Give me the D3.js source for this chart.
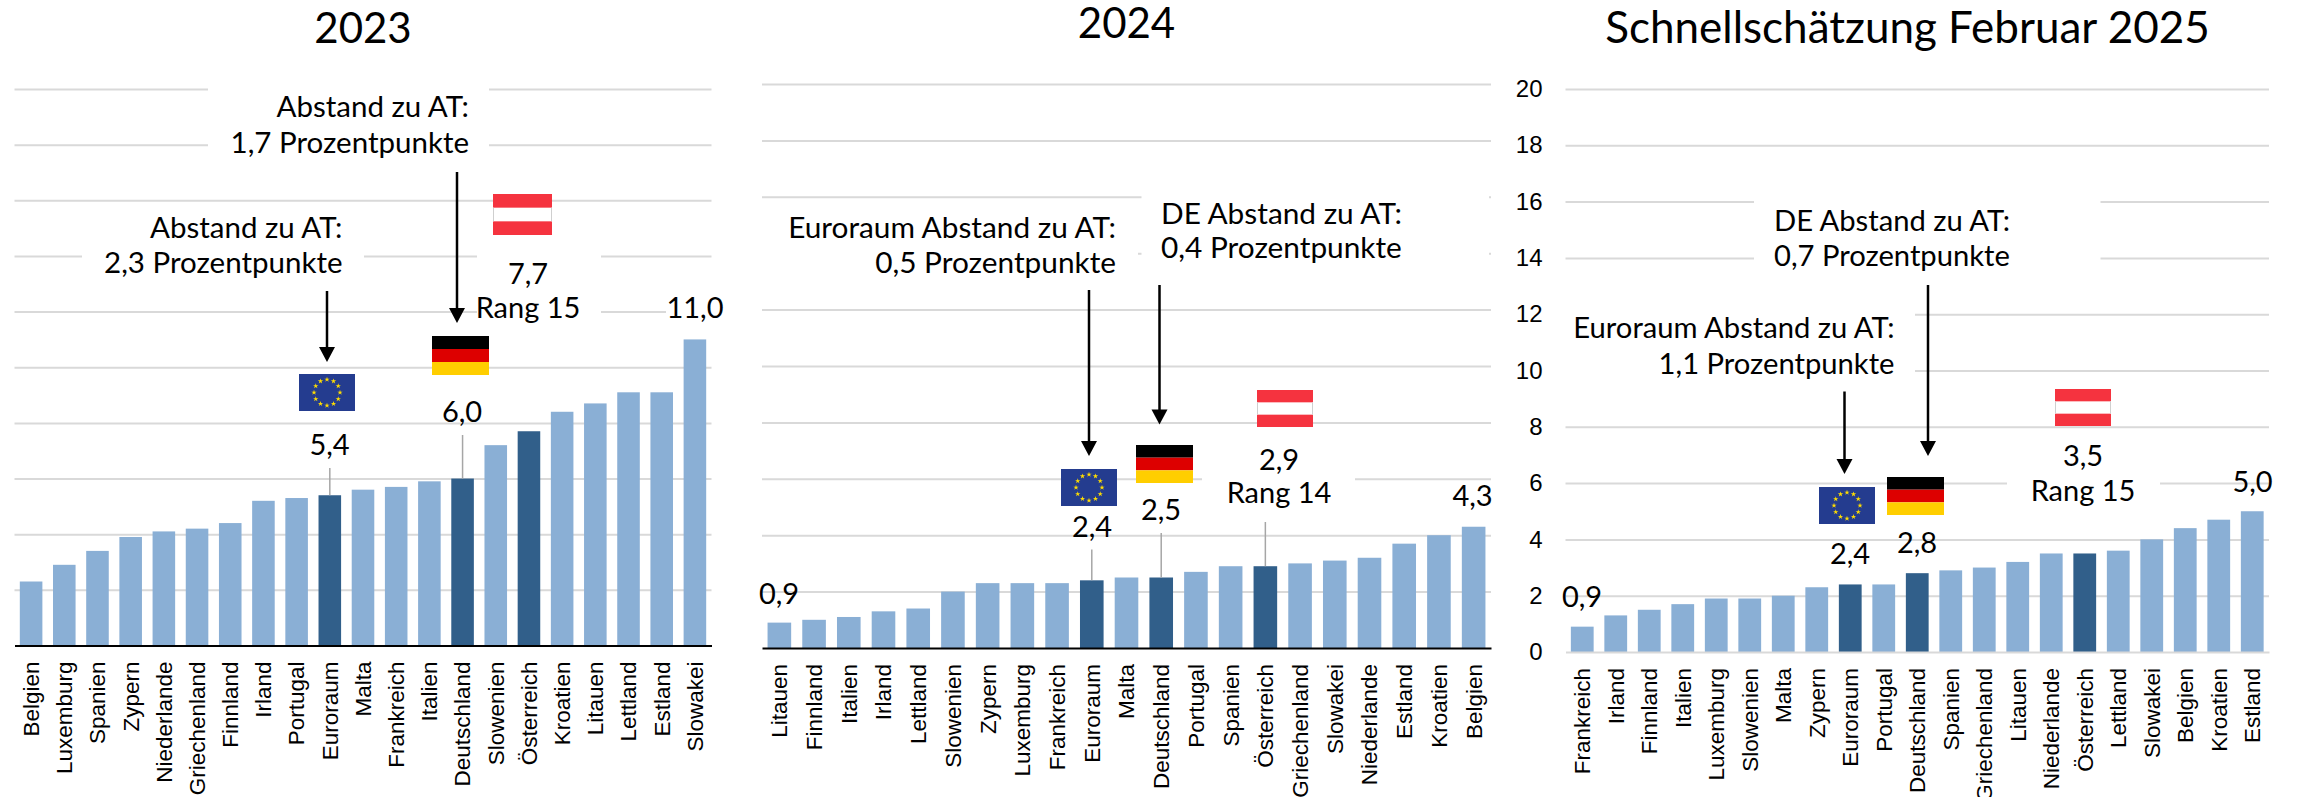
<!DOCTYPE html>
<html>
<head>
<meta charset="utf-8">
<script src="https://cdn.jsdelivr.net/npm/d3@7"></script>
<style>
    html, body { margin: 0; padding: 0; background: #fff; }
    svg { display: block; font-family: Lato, "Open Sans", sans-serif; fill: #000; }
    .grid line { stroke: #d9d9d9; stroke-width: 2; }
    .grid path { display: none; }
    .cats text { font-size: 22.5px; fill: #000; }
    .cats line { display: none; }
    .ticks text { font-size: 24px; fill: #000; }
    .ticks line, .ticks path { display: none; }
    .title { text-anchor: middle; }
    .val { font-size: 29px; text-anchor: middle; }
</style>
</head>
<body>
<svg id="chart" width="2298" height="797"></svg>
<script>
// inflation values, HICP
var cats2023 = ["Belgien", "Luxemburg", "Spanien", "Zypern", "Niederlande", "Griechenland", "Finnland", "Irland", "Portugal", "Euroraum", "Malta", "Frankreich", "Italien", "Deutschland", "Slowenien", "Österreich", "Kroatien", "Litauen", "Lettland", "Estland", "Slowakei"];
var vals2023 = [2.3, 2.9, 3.4, 3.9, 4.1, 4.2, 4.4, 5.2, 5.3, 5.4, 5.6, 5.7, 5.9, 6.0, 7.2, 7.7, 8.4, 8.7, 9.1, 9.1, 11.0];

var cats2024 = ["Litauen", "Finnland", "Italien", "Irland", "Lettland", "Slowenien", "Zypern", "Luxemburg", "Frankreich", "Euroraum", "Malta", "Deutschland", "Portugal", "Spanien", "Österreich", "Griechenland", "Slowakei", "Niederlande", "Estland", "Kroatien", "Belgien"];
var vals2024 = [0.9, 1.0, 1.1, 1.3, 1.4, 2.0, 2.3, 2.3, 2.3, 2.4, 2.5, 2.5, 2.7, 2.9, 2.9, 3.0, 3.1, 3.2, 3.7, 4.0, 4.3];

var cats2025 = ["Frankreich", "Irland", "Finnland", "Italien", "Luxemburg", "Slowenien", "Malta", "Zypern", "Euroraum", "Portugal", "Deutschland", "Spanien", "Griechenland", "Litauen", "Niederlande", "Österreich", "Lettland", "Slowakei", "Belgien", "Kroatien", "Estland"];
var vals2025 = [0.9, 1.3, 1.5, 1.7, 1.9, 1.9, 2.0, 2.3, 2.4, 2.4, 2.8, 2.9, 3.0, 3.2, 3.5, 3.5, 3.6, 4.0, 4.4, 4.7, 5.0];

var yTicks = [0, 2, 4, 6, 8, 10, 12, 14, 16, 18, 20];
var darkCats = ["Euroraum", "Deutschland", "Österreich"];

var light = "#8aafd5", dark = "#315f8a";

var panels = [
    {
        title: "2023", titleX: 363, titleY: 43, titleSize: 42, noteSize: 29.5,
        cats: cats2023, vals: vals2023,
        x0: 14.5, x1: 711.5, top: 89, bottom: 645.5, baseColor: "#000", showTicks: false,
        masks: [[208, 75, 281, 85], [82, 212, 282, 80], [477, 245, 124, 85], [666, 295, 46, 35]],
        notes: [
            {x: 469, y: 117, anchor: "end", text: "Abstand zu AT:"},
            {x: 469, y: 152.5, anchor: "end", text: "1,7 Prozentpunkte"},
            {x: 342.5, y: 237.5, anchor: "end", text: "Abstand zu AT:"},
            {x: 342.5, y: 273, anchor: "end", text: "2,3 Prozentpunkte"}
        ],
        arrows: [[457, 172, 323], [327, 291, 362]],
        eu: [299, 374, 56, 37], de: [432, 336, 57, 39], at: [493, 194, 59, 41],
        labels: [
            {x: 329.5, y: 455, text: "5,4"}, {x: 462, y: 422, text: "6,0"},
            {x: 528, y: 284, text: "7,7"}, {x: 528, y: 318, text: "Rang 15"},
            {x: 695, y: 318, text: "11,0"}
        ],
        leaders: [["Euroraum", 468], ["Deutschland", 435]]
    },
    {
        title: "2024", titleX: 1126.5, titleY: 38, titleSize: 42, noteSize: 29.8,
        cats: cats2024, vals: vals2024,
        x0: 762, x1: 1491, top: 84, bottom: 648, baseColor: "#000", showTicks: false,
        masks: [[762, 240, 376, 25], [1141.5, 190, 347.5, 72], [1202, 465, 153, 45]],
        notes: [
            {x: 1116, y: 237.5, anchor: "end", text: "Euroraum Abstand zu AT:"},
            {x: 1116, y: 273, anchor: "end", text: "0,5 Prozentpunkte"},
            {x: 1161, y: 223.5, anchor: "start", text: "DE Abstand zu AT:"},
            {x: 1161, y: 258, anchor: "start", text: "0,4 Prozentpunkte"}
        ],
        arrows: [[1089, 290, 456], [1159.5, 285, 424.5]],
        eu: [1061, 469, 56, 37], de: [1136, 445, 57, 38], at: [1257, 390, 56, 37],
        labels: [
            {x: 1092, y: 537, text: "2,4"}, {x: 1161, y: 520, text: "2,5"},
            {x: 1279, y: 470, text: "2,9"}, {x: 1279, y: 503, text: "Rang 14"},
            {x: 1472.5, y: 506, text: "4,3"}, {x: 779, y: 604, text: "0,9"}
        ],
        leaders: [["Euroraum", 549.5], ["Deutschland", 533], ["Österreich", 522]]
    },
    {
        title: "Schnellschätzung Februar 2025", titleX: 1907.5, titleY: 43, titleSize: 44, noteSize: 29.2,
        cats: cats2025, vals: vals2025,
        x0: 1565.5, x1: 2269, top: 89, bottom: 652, baseColor: "#d9d9d9", showTicks: true,
        masks: [[1754, 190, 346.5, 75], [1560, 305, 355, 75], [2007, 470, 153, 20]],
        notes: [
            {x: 1774, y: 231, anchor: "start", text: "DE Abstand zu AT:"},
            {x: 1774, y: 266, anchor: "start", text: "0,7 Prozentpunkte"},
            {x: 1894.5, y: 338, anchor: "end", text: "Euroraum Abstand zu AT:"},
            {x: 1894.5, y: 373.5, anchor: "end", text: "1,1 Prozentpunkte"}
        ],
        arrows: [[1844.5, 391.5, 474], [1928, 285, 456]],
        eu: [1819, 487, 56, 37], de: [1887, 477, 57, 38], at: [2055, 389, 56, 37],
        labels: [
            {x: 1850, y: 564, text: "2,4"}, {x: 1917, y: 553, text: "2,8"},
            {x: 2083, y: 466, text: "3,5"}, {x: 2083, y: 501, text: "Rang 15"},
            {x: 2252.5, y: 491.5, text: "5,0"}, {x: 1582, y: 606.5, text: "0,9"}
        ],
        leaders: []
    }
];

var svg = d3.select("#chart");

var drawAustria = function(g, b) {
    var h = b[3] / 3;
    g.append("rect").attr("x", b[0]).attr("y", b[1]).attr("width", b[2]).attr("height", b[3]).attr("fill", "#f5333f");
    g.append("rect").attr("x", b[0]).attr("y", b[1] + h).attr("width", b[2]).attr("height", h).attr("fill", "#fff");
    // thin grey edge on the white stripe
    g.append("line").attr("x1", b[0] + b[2] - 0.5).attr("x2", b[0] + b[2] - 0.5).attr("y1", b[1] + h).attr("y2", b[1] + 2 * h).attr("stroke", "#cfcfcf");
    g.append("line").attr("x1", b[0] + 0.5).attr("x2", b[0] + 0.5).attr("y1", b[1] + h).attr("y2", b[1] + 2 * h).attr("stroke", "#cfcfcf");
};

var drawGermany = function(g, b) {
    var colors = ["#000", "#dd0000", "#ffce00"];
    colors.forEach(function(c, i) {
        g.append("rect").attr("x", b[0]).attr("y", b[1] + i * b[3] / 3).attr("width", b[2]).attr("height", b[3] / 3).attr("fill", c);
    });
};

var drawEurope = function(g, b) {
    g.append("rect").attr("x", b[0]).attr("y", b[1]).attr("width", b[2]).attr("height", b[3]).attr("fill", "#243c8f");
    var star = d3.symbol().type(d3.symbolStar).size(9);
    d3.range(12).forEach(function(i) {
        var a = i * Math.PI / 6;
        g.append("path")
            .attr("d", star)
            .attr("fill", "#ffdd00")
            .attr("transform", "translate(" + (b[0] + b[2] / 2 + 13 * Math.sin(a)) + "," + (b[1] + b[3] / 2 - 13 * Math.cos(a)) + ")");
    });
};

panels.forEach(function(p) {
    var g = svg.append("g");
    var x = d3.scaleBand().domain(p.cats).range([p.x0, p.x1]).paddingInner(0.32).paddingOuter(0.16);
    var y = d3.scaleLinear().domain([0, 20]).range([p.bottom, p.top]);

    g.append("text")
        .attr("class", "title")
        .attr("x", p.titleX)
        .attr("y", p.titleY)
        .attr("font-size", p.titleSize)
        .text(p.title);

    // gridlines, the text boxes sit on top of them as white rects
    g.append("g")
        .attr("class", "grid")
        .attr("transform", "translate(" + p.x0 + ",0)")
        .call(d3.axisLeft(y).tickValues(yTicks.slice(1)).tickSize(-(p.x1 - p.x0)).tickFormat(""));

    g.selectAll("rect.mask").data(p.masks)
        .enter().append("rect")
        .attr("class", "mask")
        .attr("x", function(d) { return d[0]; })
        .attr("y", function(d) { return d[1]; })
        .attr("width", function(d) { return d[2]; })
        .attr("height", function(d) { return d[3]; })
        .attr("fill", "#fff");

    g.selectAll("rect.bar").data(p.vals)
        .enter().append("rect")
        .attr("class", "bar")
        .attr("x", function(d, i) { return x(p.cats[i]); })
        .attr("y", function(d) { return y(d); })
        .attr("width", x.bandwidth())
        .attr("height", function(d) { return y(0) - y(d); })
        .attr("fill", function(d, i) { return darkCats.indexOf(p.cats[i]) >= 0 ? dark : light; });

    var catAxis = g.append("g")
        .attr("class", "cats")
        .attr("transform", "translate(0," + p.bottom + ")")
        .call(d3.axisBottom(x).tickSize(0).tickPadding(0));
    catAxis.select("path").attr("stroke", p.baseColor).attr("stroke-width", 2);
    catAxis.selectAll("text")
        .attr("text-anchor", "end")
        .attr("dy", "0.35em")
        .attr("transform", "translate(0,16) rotate(-90)")
        .attr("x", 0)
        .attr("y", 0);

    if (p.showTicks) {
        g.append("g")
            .attr("class", "ticks")
            .attr("transform", "translate(" + (p.x0 - 1) + ",0)")
            .call(d3.axisLeft(y).tickValues(yTicks).tickSize(0).tickPadding(22));
    }

    p.leaders.forEach(function(l) {
        var i = p.cats.indexOf(l[0]);
        var cx = x(l[0]) + x.bandwidth() / 2;
        g.append("line")
            .attr("x1", cx).attr("x2", cx)
            .attr("y1", l[1]).attr("y2", y(p.vals[i]))
            .attr("stroke", "#a6a6a6").attr("stroke-width", 1.5);
    });

    p.arrows.forEach(function(a) {
        g.append("line")
            .attr("x1", a[0]).attr("x2", a[0])
            .attr("y1", a[1]).attr("y2", a[2] - 10)
            .attr("stroke", "#000").attr("stroke-width", 2.5);
        g.append("path")
            .attr("d", "M" + (a[0] - 8) + "," + (a[2] - 15) + "L" + (a[0] + 8) + "," + (a[2] - 15) + "L" + a[0] + "," + a[2] + "Z")
            .attr("fill", "#000");
    });

    drawEurope(g, p.eu);
    drawGermany(g, p.de);
    drawAustria(g, p.at);

    g.selectAll("text.note").data(p.notes)
        .enter().append("text")
        .attr("class", "note")
        .attr("x", function(d) { return d.x; })
        .attr("y", function(d) { return d.y; })
        .attr("font-size", p.noteSize)
        .attr("text-anchor", function(d) { return d.anchor; })
        .text(function(d) { return d.text; });

    g.selectAll("text.val").data(p.labels)
        .enter().append("text")
        .attr("class", "val")
        .attr("x", function(d) { return d.x; })
        .attr("y", function(d) { return d.y; })
        .text(function(d) { return d.text; });
});
</script>
</body>
</html>
